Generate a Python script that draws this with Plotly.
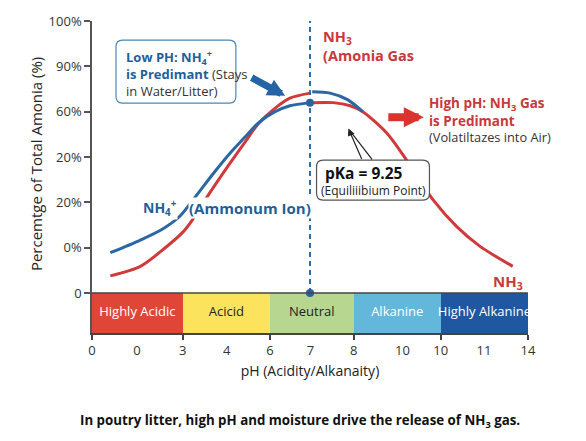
import plotly.graph_objects as go

# ---- data (positions on the drawn, evenly spaced pH scale 0..10) ----
nh4_pos = [0.42, 1.11, 1.63, 2.02, 2.37, 2.76, 3.17, 3.51, 3.81, 4.20, 4.54, 5.0, None, 5.05, 5.46, 5.87, 6.21]
nh4_pct = [0.89, 1.17, 1.42, 1.70, 2.12, 2.61, 3.09, 3.44, 3.75, 4.00, 4.13, 4.20, None, 4.44, 4.41, 4.26, 4.00]
nh3_pos = [0.42, 1.11, 1.68, 2.09, 2.30, 2.64, 3.17, 3.51, 3.81, 4.20, 4.54, 5.0, None,
           5.05, 5.53, 5.92, 6.21, 6.76, 7.21, 7.82, 8.36, 8.90, 9.65]
nh3_pct = [0.38, 0.59, 1.00, 1.35, 1.61, 2.12, 2.87, 3.33, 3.73, 4.08, 4.30, 4.41, None,
           4.20, 4.20, 4.13, 4.00, 3.53, 2.94, 2.06, 1.47, 1.03, 0.59]

pka_pos = 5.0
pka_point_pct = 4.20

band_names = ["Highly Acidic", "Acicid", "Neutral", "Alkanine", "Highly Alkanine"]
band_start = [0.0, 2.08, 4.08, 6.0, 8.0]
band_end = [2.08, 4.08, 6.0, 8.0, 10.0]
band_colors = ["#df4637", "#fbe35e", "#b7d68f", "#63b7da", "#1f58a0"]
band_text_colors = ["#ffffff", "#222222", "#222222", "#ffffff", "#ffffff"]
band_depth = -0.88

x_edge_ticks = [0.0, 2.08, 4.08, 6.0, 8.0, 10.0]
x_edge_labels = ["0", "3", "6", "8", "10", "14"]
x_mid_ticks = [1.03, 3.09, 5.01, 7.12, 8.99]
x_mid_labels = ["0", "4", "7", "10", "11"]

y_ticks = [0, 1, 2, 3, 4, 5, 6]
y_labels = ["0", "0%", "20%", "20%", "60%", "90%", "100%"]

BLUE = "#2b67a3"
RED = "#d03a3a"
BLUE_TXT = "#1f5f99"
RED_TXT = "#c9383a"
FONT = "Open Sans"

band_centers = [(a + b) / 2 for a, b in zip(band_start, band_end)]
band_widths = [b - a for a, b in zip(band_start, band_end)]


def rounded_box(x0, x1, y0, y1, rx, ry):
    return (f"M {x0 + rx},{y0} L {x1 - rx},{y0} Q {x1},{y0} {x1},{y0 + ry} "
            f"L {x1},{y1 - ry} Q {x1},{y1} {x1 - rx},{y1} L {x0 + rx},{y1} "
            f"Q {x0},{y1} {x0},{y1 - ry} L {x0},{y0 + ry} Q {x0},{y0} {x0 + rx},{y0} Z")


fig = go.Figure()

# pH bands
fig.add_trace(go.Bar(
    x=band_centers, y=[band_depth] * len(band_names), width=band_widths,
    marker=dict(color=band_colors, line=dict(width=0)),
    hoverinfo="skip", showlegend=False,
))
fig.add_trace(go.Scatter(
    x=band_centers, y=[band_depth / 2] * len(band_names), mode="text",
    text=band_names, textfont=dict(family=FONT, size=13, color=band_text_colors),
    xaxis="x2", hoverinfo="skip", showlegend=False,
))

# curves
fig.add_trace(go.Scatter(
    x=nh3_pos, y=nh3_pct, mode="lines", line=dict(color=RED, width=3, shape="spline", smoothing=0.8),
    connectgaps=False, showlegend=False, hoverinfo="skip",
))
fig.add_trace(go.Scatter(
    x=nh4_pos, y=nh4_pct, mode="lines", line=dict(color=BLUE, width=3, shape="spline", smoothing=0.8),
    connectgaps=False, showlegend=False, hoverinfo="skip",
))

# pKa dashed line and points
fig.add_trace(go.Scatter(
    x=[pka_pos, pka_pos], y=[0, 6], mode="lines",
    line=dict(color="#2f6da8", width=2, dash="5px,4px"), showlegend=False, hoverinfo="skip",
))
fig.add_trace(go.Scatter(
    x=[pka_pos, pka_pos], y=[pka_point_pct, 0], mode="markers",
    marker=dict(color="#2a62a0", size=8), showlegend=False, hoverinfo="skip",
))

# band top line
fig.add_shape(type="line", x0=0, x1=10, y0=0, y1=0, xref="x", yref="y",
              line=dict(color="#444444", width=1.5), layer="above")
# rounded callout boxes
fig.add_shape(type="path", xref="x", yref="y", path=rounded_box(0.55, 3.30, 4.19, 5.58, 0.15, 0.15),
              line=dict(color="#4a86b8", width=1.2), fillcolor="rgba(255,255,255,0)", layer="above")
fig.add_shape(type="path", xref="x", yref="y", path=rounded_box(5.15, 7.74, 2.05, 2.93, 0.15, 0.15),
              line=dict(color="#555555", width=1.2), fillcolor="white", layer="above")

ann = []
# Low pH text
ann.append(dict(
    x=0.757, y=4.84, xref="x", yref="y", xanchor="left", yanchor="middle", align="left", showarrow=False,
    text=(f"<b><span style='color:{BLUE_TXT}'>Low PH: NH<sub>4</sub><sup>+</sup></span></b><br>"
          f"<b><span style='color:{BLUE_TXT}'>is Predimant</span></b> (Stays<br>in Water/Litter)"),
    font=dict(family=FONT, size=13, color="#333333"), borderpad=0,
))
# blue arrow
ann.append(dict(x=4.43, y=4.35, xref="x", yref="y", ax=-35, ay=-19, text="", showarrow=True,
                arrowhead=2, arrowsize=0.5, arrowwidth=7, arrowcolor="#2563a4"))
# NH3 Amonia gas
ann.append(dict(x=5.28, y=5.45, xref="x", yref="y", xanchor="left", yanchor="middle", align="left",
                showarrow=False, text="<b>NH<sub>3</sub><br>(Amonia Gas</b>", borderpad=0,
                font=dict(family=FONT, size=14.5, color=RED_TXT)))
# red arrow
ann.append(dict(x=7.61, y=3.88, xref="x", yref="y", ax=-37, ay=0, text="", showarrow=True,
                arrowhead=2, arrowsize=0.5, arrowwidth=8, arrowcolor="#d9342e"))
# High pH text
ann.append(dict(x=7.71, y=4.0, xref="x", yref="y", xanchor="left", yanchor="middle", align="left",
                showarrow=False, text="<b>High pH: NH<sub>3</sub> Gas<br>is Predimant</b>", borderpad=0,
                font=dict(family=FONT, size=13.5, color=RED_TXT)))
ann.append(dict(x=7.71, y=3.44, xref="x", yref="y", xanchor="left", yanchor="middle", align="left",
                showarrow=False, text="(Volatiltazes into Air)", borderpad=0,
                font=dict(family=FONT, size=12.8, color="#333333")))
# pKa arrows
ann.append(dict(x=5.88, y=3.63, xref="x", yref="y", ax=14, ay=32, text="", showarrow=True,
                arrowhead=2, arrowsize=1.2, arrowwidth=1.2, arrowcolor="#222222"))
ann.append(dict(x=5.9, y=3.6, xref="x", yref="y", ax=24, ay=31, text="", showarrow=True,
                arrowhead=0, arrowwidth=1.2, arrowcolor="#222222"))
# pKa box text
ann.append(dict(x=(364 - 92) / 43.6, y=(293.1 - 173) / 45.35, xref="x", yref="y", xanchor="center",
                yanchor="middle", showarrow=False, text="<b>pKa = 9.25</b>",
                font=dict(family=FONT, size=15.5, color="#111111")))
ann.append(dict(x=(373 - 92) / 43.6, y=(293.1 - 190) / 45.35, xref="x", yref="y", xanchor="center",
                yanchor="middle", showarrow=False, text="(Equiliiibium Point)",
                font=dict(family=FONT, size=12, color="#222222")))
# NH4+ label
ann.append(dict(x=1.57, y=1.88, xref="x", yref="y", xanchor="center", yanchor="middle", showarrow=False,
                text="<b>NH<sub>4</sub><sup>+</sup></b>", font=dict(family=FONT, size=14, color=BLUE_TXT),
                bgcolor="white", borderpad=0))
ann.append(dict(x=2.2, y=1.88, xref="x", yref="y", xanchor="left", yanchor="middle", showarrow=False,
                text="<b>(Ammonum Ion)</b>", font=dict(family=FONT, size=15, color=BLUE_TXT),
                bgcolor="white", borderpad=0))
# NH3 bottom right
ann.append(dict(x=9.54, y=0.25, xref="x", yref="y", xanchor="center", yanchor="middle", showarrow=False,
                text="<b>NH<sub>3</sub></b>", font=dict(family=FONT, size=15, color=RED_TXT)))
# y title
ann.append(dict(x=-0.128, y=0.542, xref="paper", yref="paper", xanchor="center", yanchor="middle",
                textangle=-90, showarrow=False,
                text="Percemtge of Total Amonia (%)", font=dict(family=FONT, size=15, color="#222222")))
# caption
ann.append(dict(x=0.477, y=-0.282, xref="paper", yref="paper", xanchor="center", yanchor="middle",
                showarrow=False,
                text="<b>In poutry litter, high pH and moisture drive the release of NH<sub>3</sub> gas.</b>",
                font=dict(family=FONT, size=13.3, color="#111111")))

fig.update_layout(
    width=586, height=441, autosize=False,
    margin=dict(l=92, r=58, t=21, b=108),
    paper_bgcolor="white", plot_bgcolor="white",
    font=dict(family=FONT, size=13, color="#333333"),
    barmode="overlay", bargap=0,
    showlegend=False,
    annotations=ann,
    xaxis=dict(
        range=[0, 10], tickmode="array", tickvals=x_edge_ticks, ticktext=x_edge_labels,
        ticks="outside", ticklen=5, tickwidth=1.5, tickcolor="#444444",
        showline=True, linecolor="#444444", linewidth=1.5,
        showgrid=False, zeroline=False, tickfont=dict(family=FONT, size=13, color="#333333"),
        title=dict(text="pH (Acidity/Alkanaity)", standoff=8, font=dict(family=FONT, size=14, color="#222222")),
        fixedrange=True,
    ),
    xaxis2=dict(
        range=[0, 10], overlaying="x", anchor="y", side="bottom", tickmode="array",
        tickvals=x_mid_ticks, ticktext=x_mid_labels,
        ticks="outside", ticklen=5, tickcolor="rgba(0,0,0,0)",
        showline=False, showgrid=False, zeroline=False,
        tickfont=dict(family=FONT, size=13, color="#333333"),
    ),
    yaxis=dict(
        range=[band_depth, 6], tickmode="array", tickvals=y_ticks, ticktext=y_labels,
        ticks="outside", ticklen=6, tickwidth=1.5, tickcolor="#555555",
        showline=True, linecolor="#555555", linewidth=1.5,
        showgrid=False, zeroline=False, tickfont=dict(family=FONT, size=13, color="#333333"),
    ),
)

fig.write_html("out.html", config={"displayModeBar": False},
               post_script="document.body.style.margin='0';")
